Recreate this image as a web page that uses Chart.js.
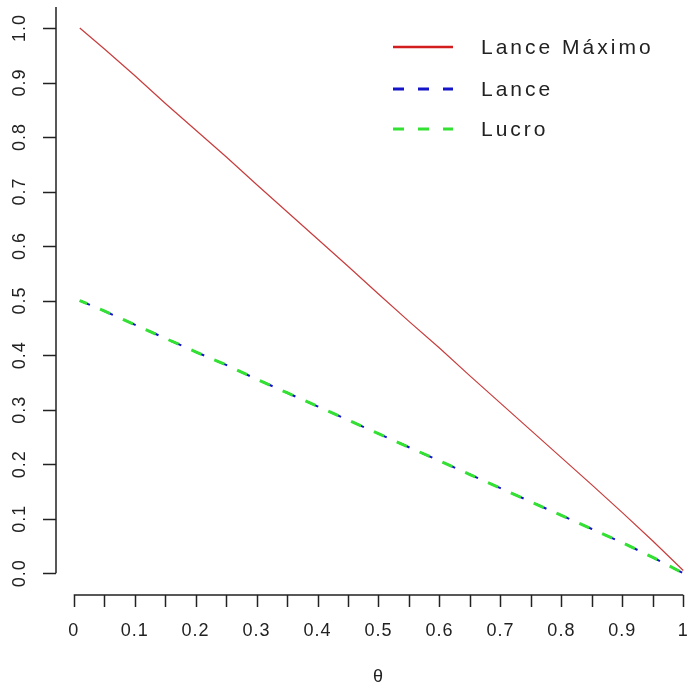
<!DOCTYPE html>
<html>
<head>
<meta charset="utf-8">
<script src="https://cdn.jsdelivr.net/npm/chart.js@4/dist/chart.umd.min.js"></script>
<style>
  body { margin: 0; background: #fff; }
  canvas { display: block; }
</style>
</head>
<body>
<canvas id="myChart" width="688" height="691"></canvas>
<script>
// values
var theta = [0.01, 0.05, 0.1, 0.15, 0.2, 0.25, 0.3, 0.35, 0.4, 0.45, 0.5,
             0.55, 0.6, 0.65, 0.7, 0.75, 0.8, 0.85, 0.9, 0.95, 1.0];
var lanceMax = [1.0, 0.962, 0.913, 0.862, 0.813, 0.764, 0.713, 0.663, 0.613, 0.563, 0.512,
                0.462, 0.413, 0.362, 0.312, 0.262, 0.212, 0.162, 0.111, 0.059, 0.005];
var lance = [0.5, 0.481, 0.456, 0.431, 0.406, 0.382, 0.356, 0.331, 0.306, 0.281, 0.256,
             0.231, 0.206, 0.181, 0.156, 0.131, 0.106, 0.081, 0.056, 0.029, 0.0];
var lucro = [0.5, 0.481, 0.456, 0.431, 0.406, 0.382, 0.356, 0.331, 0.306, 0.281, 0.256,
             0.231, 0.206, 0.181, 0.156, 0.131, 0.106, 0.081, 0.056, 0.029, 0.0];
var xTicks = [0, 0.1, 0.2, 0.3, 0.4, 0.5, 0.6, 0.7, 0.8, 0.9, 1];
var xMinorTicks = [0.05, 0.15, 0.25, 0.35, 0.45, 0.55, 0.65, 0.75, 0.85, 0.95];
var yTicks = [0, 0.1, 0.2, 0.3, 0.4, 0.5, 0.6, 0.7, 0.8, 0.9, 1.0];

function pts(ys){
    return theta.map(function(t, i){ return {x: t, y: ys[i]}; });
}

var FONT = '"Liberation Sans", Arial, sans-serif';

// R style detached axes + legend
var rAxes = {
    id: 'rAxes',
    afterDraw: function(chart){
        var c = chart.ctx, xs = chart.scales.x, ys = chart.scales.y;
        var area = chart.chartArea;
        c.save();
        c.strokeStyle = '#222';
        c.fillStyle = '#222';
        c.lineWidth = 1.5;

        // x axis
        var yb = area.bottom;
        c.beginPath();
        c.moveTo(xs.getPixelForValue(0), yb);
        c.lineTo(xs.getPixelForValue(1), yb);
        xTicks.concat(xMinorTicks).forEach(function(v){
            var px = Math.round(xs.getPixelForValue(v)) + 0.5;
            c.moveTo(px, yb);
            c.lineTo(px, yb + 12);
        });
        c.stroke();
        c.font = '18px ' + FONT;
        c.letterSpacing = '1px';
        c.textAlign = 'center';
        c.textBaseline = 'middle';
        xTicks.forEach(function(v){
            c.fillText(String(v), xs.getPixelForValue(v), 631);
        });
        c.fillText('\u03b8', xs.getPixelForValue(0.5), 677);

        // y axis
        var xl = area.left;
        c.beginPath();
        c.moveTo(xl, ys.getPixelForValue(0));
        c.lineTo(xl, area.top + 1);
        yTicks.forEach(function(v){
            var py = Math.round(ys.getPixelForValue(v)) + 0.5;
            c.moveTo(xl, py);
            c.lineTo(xl - 13, py);
        });
        c.stroke();
        yTicks.forEach(function(v){
            c.save();
            c.translate(20, ys.getPixelForValue(v));
            c.rotate(-Math.PI / 2);
            c.fillText(v.toFixed(1), 0, 0);
            c.restore();
        });

        // legend
        var rows = [47, 89, 129];
        chart.data.datasets.forEach(function(ds, i){
            c.save();
            c.strokeStyle = ds.legendColor || ds.borderColor;
            c.lineWidth = ds.legendWidth;
            c.setLineDash(ds.borderDash || []);
            c.beginPath();
            c.moveTo(393, rows[i]);
            c.lineTo(453, rows[i]);
            c.stroke();
            c.restore();
            c.save();
            c.fillStyle = '#222';
            c.font = '21px ' + FONT;
            c.letterSpacing = '3px';
            c.textAlign = 'left';
            c.textBaseline = 'middle';
            c.fillText(ds.label, 481, rows[i] + 1);
            c.restore();
        });
        c.restore();
    }
};

var ctx = document.getElementById('myChart').getContext('2d');
var myChart = new Chart(ctx, {
    type: 'line',
    data: {
        datasets: [
            {
                label: 'Lance M\u00e1ximo',
                data: pts(lanceMax),
                borderColor: 'rgb(200,60,60)',
                legendColor: 'rgb(210,30,30)',
                borderWidth: 1.2,
                legendWidth: 2.5,
                pointRadius: 0,
                tension: 0,
                order: 2
            },
            {
                label: 'Lance',
                data: pts(lance),
                borderColor: 'rgb(20,20,200)',
                borderWidth: 2,
                legendWidth: 3,
                borderDash: [11, 14],
                pointRadius: 0,
                tension: 0,
                order: 1
            },
            {
                label: 'Lucro',
                data: pts(lucro),
                borderColor: 'rgb(50,225,50)',
                borderWidth: 3,
                legendWidth: 3,
                borderDash: [11, 14],
                borderDashOffset: 3,
                pointRadius: 0,
                tension: 0,
                order: 0
            }
        ]
    },
    options: {
        responsive: false,
        animation: false,
        layout: { padding: { left: 56, right: 0, top: 6, bottom: 96 } },
        scales: {
            x: { type: 'linear', min: -0.029, max: 1.0077, display: false },
            y: { type: 'linear', min: -0.04, max: 1.0404, display: false }
        },
        plugins: {
            legend: { display: false },
            tooltip: { enabled: false }
        }
    },
    plugins: [rAxes]
});
</script>
</body>
</html>
